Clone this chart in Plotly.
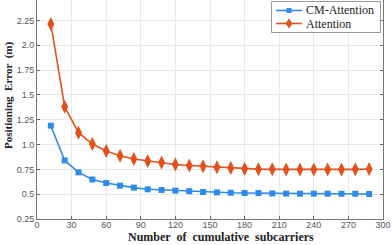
import plotly.graph_objects as go

subcarriers = [12, 24, 36, 48, 60, 72, 84, 96, 108, 120, 132, 144,
               156, 168, 180, 192, 204, 216, 228, 240, 252, 264, 276, 288]
cm_attention = [1.19, 0.84, 0.72, 0.648, 0.612, 0.586, 0.566, 0.549, 0.542, 0.536, 0.530, 0.522,
                0.518, 0.514, 0.512, 0.511, 0.508, 0.506, 0.505, 0.505, 0.505, 0.504, 0.504, 0.502]
attention = [2.215, 1.38, 1.12, 1.005, 0.935, 0.887, 0.855, 0.834, 0.818, 0.799, 0.789, 0.781,
             0.772, 0.764, 0.756, 0.752, 0.750, 0.749, 0.748, 0.748, 0.748, 0.749, 0.750, 0.754]
series_names = ["CM-Attention", "Attention"]
series_colors = ["#2f8be8", "#e4501c"]
x_ticks = [0, 30, 60, 90, 120, 150, 180, 210, 240, 270, 300]
y_ticks = [0.25, 0.5, 0.75, 1.0, 1.25, 1.5, 1.75, 2.0, 2.25]
y_tick_text = ["0.25", "0.5", "0.75", "1.0", "1.25", "1.5", "1.75", "2.0", "2.25"]

SERIF = "Liberation Serif, Times New Roman, serif"
W, H = 392, 245
ML, MR, MT, MB = 37, 9, 0, 26
PW, PH = W - ML - MR, H - MT - MB


def px(x):
    return (x - ML) / PW


def py(y):
    return 1 - (y - MT) / PH


fig = go.Figure()
fig.add_trace(go.Scatter(
    x=subcarriers, y=cm_attention, name=series_names[0], mode="lines+markers",
    line=dict(color=series_colors[0], width=1.6),
    marker=dict(symbol="square", size=6, color=series_colors[0]), showlegend=False))
fig.add_trace(go.Scatter(
    x=subcarriers, y=attention, name=series_names[1], mode="lines+markers",
    line=dict(color=series_colors[1], width=1.6),
    marker=dict(symbol="diamond-tall", size=10, color=series_colors[1]), showlegend=False))

# compact boxed legend (MATLAB style)
shapes = [dict(type="rect", xref="paper", yref="paper", x0=px(271.5), x1=px(380.5),
               y0=py(32.5), y1=py(1.5), line=dict(color="#999999", width=1), fillcolor="white",
               layer="above")]
annotations = []
rows_y = [10.5, 23.5]
for name, color, ry, sym in zip(series_names, series_colors, rows_y, ["square", "diamond"]):
    shapes.append(dict(type="line", xref="paper", yref="paper", x0=px(276), x1=px(302),
                       y0=py(ry), y1=py(ry), line=dict(color=color, width=1.6), layer="above"))
    if sym == "square":
        shapes.append(dict(type="rect", xref="paper", yref="paper", x0=px(286.5), x1=px(291.5),
                           y0=py(ry + 2.5), y1=py(ry - 2.5), line=dict(width=0),
                           fillcolor=color, layer="above"))
    else:
        path = "M {a},{b} L {c},{d} L {a},{e} L {f},{d} Z".format(
            a=px(289), b=py(ry - 5), c=px(292.5), d=py(ry), e=py(ry + 5), f=px(285.5))
        shapes.append(dict(type="path", xref="paper", yref="paper", path=path,
                           line=dict(width=0), fillcolor=color, layer="above"))
    annotations.append(dict(text=name, xref="paper", yref="paper", x=px(304), y=py(ry),
                            xanchor="left", yanchor="middle", showarrow=False,
                            font=dict(family=SERIF, size=12, color="#222222")))

annotations += [
    dict(text="<b>Number  of  cumulative  subcarriers</b>", xref="paper", yref="paper",
         x=px(221), y=py(245), xanchor="center", yanchor="bottom", showarrow=False,
         font=dict(family=SERIF, size=12, color="#222222"), borderpad=0),
    dict(text="<b>Positioning  Error  (m)</b>", xref="paper", yref="paper",
         x=px(8), y=py(96), xanchor="center", yanchor="middle", showarrow=False, textangle=-90,
         font=dict(family=SERIF, size=11, color="#222222")),
]

fig.update_layout(
    width=W, height=H,
    margin=dict(l=ML, r=MR, t=MT, b=MB, autoexpand=False),
    paper_bgcolor="white", plot_bgcolor="white",
    font=dict(family="Liberation Sans, Arial, sans-serif", size=9, color="#555555"),
    showlegend=False,
    shapes=shapes,
    annotations=annotations,
)
fig.update_xaxes(
    range=[0, 300], tickvals=x_ticks, ticks="inside", ticklen=3, tickcolor="#666666",
    showline=True, linecolor="#777777", linewidth=1, mirror=False, automargin=False,
    showgrid=True, gridcolor="#e4eaea", gridwidth=1, zeroline=False,
    tickfont=dict(size=9, color="#555555"), ticklabelstandoff=-3,
)
fig.update_yaxes(
    range=[0.25, 2.456], tickvals=y_ticks, ticktext=y_tick_text, ticks="inside", ticklen=3,
    tickcolor="#666666", automargin=False,
    showline=True, linecolor="#777777", linewidth=1, mirror="ticks",
    showgrid=True, gridcolor="#e4eaea", gridwidth=1, zeroline=False,
    tickfont=dict(size=9, color="#555555"),
)

fig.write_html("out.html", config={"displayModeBar": False},
               post_script="document.body.style.margin='0';document.body.style.overflow='hidden';")
